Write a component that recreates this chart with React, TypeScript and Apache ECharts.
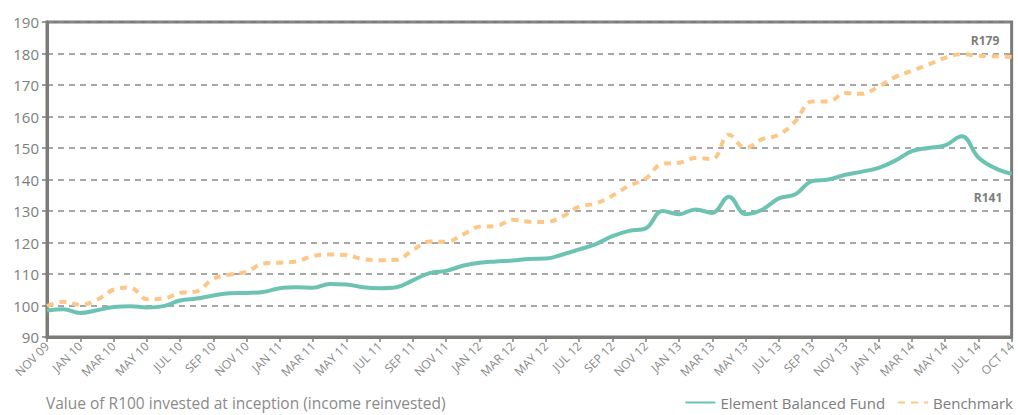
import React, { useEffect, useRef } from "react";
import * as echarts from "echarts";

const TICK_LABELS = [
  "NOV 09", "JAN 10", "MAR 10", "MAY 10", "JUL 10", "SEP 10", "NOV 10",
  "JAN 11", "MAR 11", "MAY 11", "JUL 11", "SEP 11", "NOV 11",
  "JAN 12", "MAR 12", "MAY 12", "JUL 12", "SEP 12", "NOV 12",
  "JAN 13", "MAR 13", "MAY 13", "JUL 13", "SEP 13", "NOV 13",
  "JAN 14", "MAR 14", "MAY 14", "JUL 14", "OCT 14",
];

// monthly values, index 0 = NOV 09
const FUND = [
  98.4, 98.8, 97.6, 98.5, 99.5, 99.8, 99.4, 99.8, 101.6, 102.2,
  103.2, 103.9, 104.0, 104.3, 105.5, 105.8, 105.6, 106.8, 106.7, 105.8,
  105.5, 105.8, 108.0, 110.3, 111.0, 112.6, 113.6, 114.0, 114.3, 114.8,
  114.9, 116.2, 117.8, 119.5, 122.0, 123.7, 124.5, 130.0, 129.0, 130.5,
  129.4, 134.5, 129.0, 130.4, 134.0, 135.3, 139.5, 140.0, 141.5, 142.5,
  143.7, 146.0, 149.0, 150.0, 150.8, 153.7, 147.0, 143.6, 141.8,
];

const BENCHMARK = [
  99.8, 101.2, 100.2, 101.8, 105.0, 105.7, 102.0, 102.2, 104.0, 104.5,
  108.5, 109.8, 110.7, 113.3, 113.6, 114.0, 115.7, 116.2, 116.0, 114.7,
  114.4, 114.5, 117.6, 120.3, 120.2, 122.5, 125.0, 125.2, 127.2, 126.6,
  126.5, 128.3, 131.4, 132.4, 134.9, 138.0, 140.3, 145.0, 145.3, 146.8,
  146.5, 154.2, 150.0, 152.8, 154.2, 158.5, 164.8, 164.8, 167.5, 167.2,
  169.5, 172.5, 174.5, 176.5, 178.6, 179.8, 179.3, 179.1, 178.9,
];

const SERIES_NAMES = ["Element Balanced Fund", "Benchmark"];
const END_LABELS = ["R179", "R141"];
const CAPTION = "Value of R100 invested at inception (income reinvested)";

const FONT = "'Open Sans', 'DejaVu Sans', sans-serif";

export default function App() {
  const ref = useRef<HTMLDivElement>(null);

  useEffect(() => {
    if (!ref.current) return;
    const chart = echarts.init(ref.current, null, { renderer: "svg" });
    const toPairs = (arr: number[]) => arr.map((v, i) => [i, v]);
    chart.setOption({
      animation: false,
      backgroundColor: "#ffffff",
      textStyle: { fontFamily: FONT },
      grid: {
        left: 47,
        right: 6,
        top: 22,
        bottom: 78,
        show: true,
        borderColor: "#7b7b77",
        borderWidth: 3,
      },
      xAxis: {
        type: "value",
        min: 0,
        max: (TICK_LABELS.length - 1) * 2,
        interval: 2,
        axisLine: { show: true, lineStyle: { color: "#7b7b77", width: 3 } },
        axisTick: { show: true, length: 5, lineStyle: { color: "#7b7b77", width: 1.5 } },
        splitLine: { show: false },
        axisLabel: {
          rotate: 45,
          margin: 7,
          fontSize: 12,
          color: "#8a8a8a",
          fontFamily: FONT,
          formatter: (v: number) => TICK_LABELS[Math.round(v / 2)] ?? "",
        },
      },
      yAxis: {
        type: "value",
        min: 90,
        max: 190,
        interval: 10,
        axisLine: { show: true, lineStyle: { color: "#7b7b77", width: 3 } },
        axisTick: { show: true, length: 5, lineStyle: { color: "#7b7b77", width: 1.5 } },
        splitLine: {
          show: true,
          lineStyle: { color: "#8a8a8a", width: 1.5, type: [6, 5] },
        },
        axisLabel: {
          margin: 8,
          fontSize: 15,
          color: "#7d7d7d",
          fontFamily: FONT,
        },
      },
      legend: {
        right: 0,
        bottom: 0,
        itemWidth: 30,
        itemHeight: 12,
        itemGap: 12,
        itemStyle: { opacity: 0 },
        textStyle: { fontSize: 15, color: "#7d7d7d", fontFamily: FONT },
        data: SERIES_NAMES,
      },
      graphic: [
        {
          type: "text",
          left: 46,
          top: 395,
          style: { text: CAPTION, fontSize: 15.5, fill: "#8a8a8a", fontFamily: FONT },
        },
        {
          type: "text",
          x: 985,
          y: 40,
          style: {
            text: END_LABELS[0],
            fontSize: 12,
            fontWeight: "bold",
            fill: "#7d7d7d",
            fontFamily: FONT,
            align: "center",
            verticalAlign: "middle",
          },
        },
        {
          type: "text",
          x: 988,
          y: 197,
          style: {
            text: END_LABELS[1],
            fontSize: 12,
            fontWeight: "bold",
            fill: "#7d7d7d",
            fontFamily: FONT,
            align: "center",
            verticalAlign: "middle",
          },
        },
      ],
      series: [
        {
          name: SERIES_NAMES[0],
          type: "line",
          data: toPairs(FUND),
          smooth: 0.4,
          symbol: "none",
          z: 3,
          lineStyle: { color: "#6cc3b4", width: 4 },
          itemStyle: { color: "#6cc3b4" },
        },
        {
          name: SERIES_NAMES[1],
          type: "line",
          data: toPairs(BENCHMARK),
          smooth: 0.4,
          symbol: "none",
          z: 2,
          lineStyle: { color: "#fdc787", width: 4, type: [7, 6] },
          itemStyle: { color: "#fdc787" },
        },
      ],
    });
    return () => chart.dispose();
  }, []);

  return (
    <div
      ref={ref}
      style={{ position: "fixed", left: 0, top: 0, width: 1018, height: 415 }}
    />
  );
}
